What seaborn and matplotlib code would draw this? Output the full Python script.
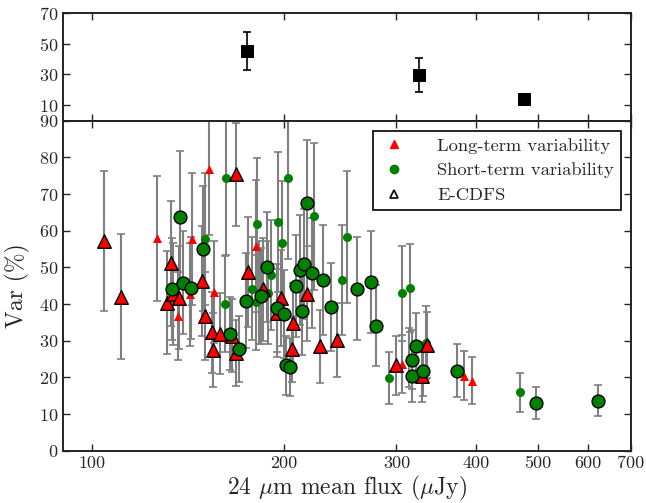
import numpy as np
import pandas as pd
import matplotlib
matplotlib.use("Agg")
import matplotlib.pyplot as plt
import seaborn as sns
from matplotlib.lines import Line2D
from matplotlib.ticker import FixedLocator, NullLocator, FixedFormatter

# top panel: binned averages
bin_flux = [175, 325, 475]
bin_var = [45.3, 29.5, 13.9]
bin_err = [12.4, 11.0, 0.0]

# long-term variable sources (not E-CDFS)
lt_flux = [126.4, 136.2, 143.2, 142.4, 152.6, 155.0, 180.7, 306.0, 313.8, 383.0, 394.6]
lt_var = [57.9, 36.7, 57.7, 42.6, 76.8, 43.3, 55.7, 23.6, 25.5, 20.5, 19.1]
lt_err = [17, 12, 18, 14, 18, 14, 18, 8, 8, 6.6, 6.5]

# long-term variable sources in E-CDFS
lte_flux = [104.2, 110.9, 130.9, 132.8, 134.1, 137.0, 148.5, 150.5, 154.3, 154.9,
            158.8, 165.7, 167.9, 167.9, 175.3, 185.6, 197.5, 194.7, 206.3, 206.0,
            217.6, 227.5, 242.4, 299.7, 328.9, 334.9]
lte_var = [57.2, 42.0, 40.4, 51.1, 42.7, 41.7, 46.2, 36.8, 32.3, 27.5,
           31.9, 31.4, 75.4, 26.6, 48.7, 44.0, 41.6, 37.5, 34.7, 27.6,
           42.8, 28.5, 30.2, 23.3, 20.4, 28.8]
lte_err = [19, 17, 14, 17, 14, 14, 15, 12, 11, 10,
           11, 10, 14, 9, 15, 14, 13, 12, 11, 9,
           13, 10, 10, 8, 7, 9]

# short-term variable sources (not E-CDFS)
st_flux = [150.3, 161.4, 162.3, 181.2, 178.3, 180.4, 182.5, 188.7, 191.0, 195.3,
           198.2, 203.2, 223.1, 251.1, 246.1, 291.8, 306.0, 314.6, 333.7, 468.0]
st_var = [57.6, 40.0, 74.3, 61.8, 44.2, 40.5, 43.1, 43.1, 48.0, 62.4,
          56.6, 74.4, 63.9, 58.2, 46.5, 19.8, 42.9, 44.4, 29.5, 15.9]
st_err = [18, 13, 21, 18, 14, 13, 14, 14, 15, 19,
          17, 22, 20, 18, 15, 7, 13, 12, 10, 5.3]

# short-term variable sources in E-CDFS
ste_flux = [133.4, 137.2, 138.7, 142.8, 149.1, 164.7, 169.8, 174.1, 184.2, 188.3,
            195.1, 200.0, 201.6, 204.3, 208.5, 211.7, 214.9, 213.1, 216.9, 221.5,
            229.8, 236.8, 259.9, 274.0, 278.8, 317.6, 317.6, 321.8, 330.5, 373.2,
            497.4, 621.0]
ste_var = [44.1, 63.6, 45.8, 44.4, 55.1, 31.9, 27.8, 40.9, 42.2, 50.2,
           38.9, 37.3, 23.3, 22.8, 44.9, 49.2, 50.9, 38.1, 67.6, 48.4,
           46.6, 39.1, 44.2, 46.0, 34.1, 24.8, 20.4, 28.6, 21.8, 21.8,
           13.0, 13.6]
ste_err = [14, 18, 14, 14, 17, 10, 9, 13, 13, 15,
           12, 12, 8, 8, 14, 15, 15, 12, 17, 15,
           15, 12, 14, 14, 11, 8, 7, 9, 7, 7.2,
           4.4, 4.2]

x_ticks = [100, 200, 300, 400, 500, 600, 700]
x_tick_labels = ["100", "200", "300", "400", "500", "600", "700"]


def style_axis(ax):
    ax.set_xscale("log")
    ax.set_xlim(90, 700)
    ax.xaxis.set_major_locator(FixedLocator(x_ticks))
    ax.xaxis.set_minor_locator(NullLocator())
    ax.tick_params(direction="in", top=True, right=True, length=5, width=1,
                   labelsize=13)
    for sp in ax.spines.values():
        sp.set_linewidth(1.4)
        sp.set_color("#222222")


def main():
    sns.set_style("ticks")
    plt.rcParams["font.family"] = "serif"
    plt.rcParams["font.serif"] = ["cmr10", "DejaVu Serif"]
    plt.rcParams["mathtext.fontset"] = "cm"
    plt.rcParams["axes.formatter.use_mathtext"] = True

    fig = plt.figure(figsize=(6.46, 5.03), dpi=100)
    gs = fig.add_gridspec(2, 1, height_ratios=[108, 330], hspace=0,
                          left=0.0975, right=0.9768, top=0.9748, bottom=0.104)
    ax_top = fig.add_subplot(gs[0])
    ax = fig.add_subplot(gs[1], sharex=ax_top)

    # top panel
    ax_top.errorbar(bin_flux, bin_var, yerr=bin_err, fmt="none", ecolor="black",
                    elinewidth=1.2, capsize=3, capthick=1.2, zorder=2)
    sns.scatterplot(x=bin_flux, y=bin_var, marker="s", color="black", s=80,
                    edgecolor="black", ax=ax_top, zorder=3)
    style_axis(ax_top)
    ax_top.set_ylim(0, 70)
    ax_top.set_yticks([10, 30, 50, 70])
    ax_top.tick_params(labelbottom=False)

    # bottom panel: error bars first
    ecol = "#7f7f7f"
    for fx, vv, ee in [(lt_flux, lt_var, lt_err), (lte_flux, lte_var, lte_err),
                       (st_flux, st_var, st_err), (ste_flux, ste_var, ste_err)]:
        ax.errorbar(fx, vv, yerr=ee, fmt="none", ecolor=ecol, elinewidth=1.5,
                    capsize=3, capthick=1.2, zorder=1)

    sns.scatterplot(x=lt_flux, y=lt_var, marker="^", color="red", s=42,
                    linewidth=0, ax=ax, zorder=3)
    sns.scatterplot(x=st_flux, y=st_var, marker="o", color="green", s=42,
                    linewidth=0, ax=ax, zorder=3)
    sns.scatterplot(x=lte_flux, y=lte_var, marker="^", color="red", s=95,
                    edgecolor="black", linewidth=1.0, ax=ax, zorder=4)
    sns.scatterplot(x=ste_flux, y=ste_var, marker="o", color="green", s=85,
                    edgecolor="black", linewidth=1.0, ax=ax, zorder=4)

    style_axis(ax)
    ax.xaxis.set_major_formatter(FixedFormatter(x_tick_labels))
    ax.set_ylim(0, 90)
    ax.set_yticks(np.arange(0, 91, 10))
    ax.set_xlabel(r"24 $\mu$m mean flux ($\mu$Jy)", fontsize=17, labelpad=2)
    ax.set_ylabel("Var (%)", fontsize=17, labelpad=6)

    handles = [
        Line2D([], [], marker="^", color="red", linestyle="none", markersize=6),
        Line2D([], [], marker="o", color="green", linestyle="none", markersize=6),
        Line2D([], [], marker="^", markerfacecolor="white", markeredgecolor="black",
               linestyle="none", markersize=6, markeredgewidth=1.2),
    ]
    labels = ["Long-term variability", "Short-term variability", "E-CDFS"]
    leg = ax.legend(handles, labels, loc="upper right", bbox_to_anchor=(0.982, 0.970),
                    borderaxespad=0, fontsize=13.3, frameon=True, fancybox=False,
                    framealpha=1, edgecolor="black", handlelength=1.5,
                    handletextpad=1.6, labelspacing=0.48, borderpad=0.38)
    leg.get_frame().set_linewidth(1.2)

    fig.savefig("out.png", dpi=100)


if __name__ == "__main__":
    main()
